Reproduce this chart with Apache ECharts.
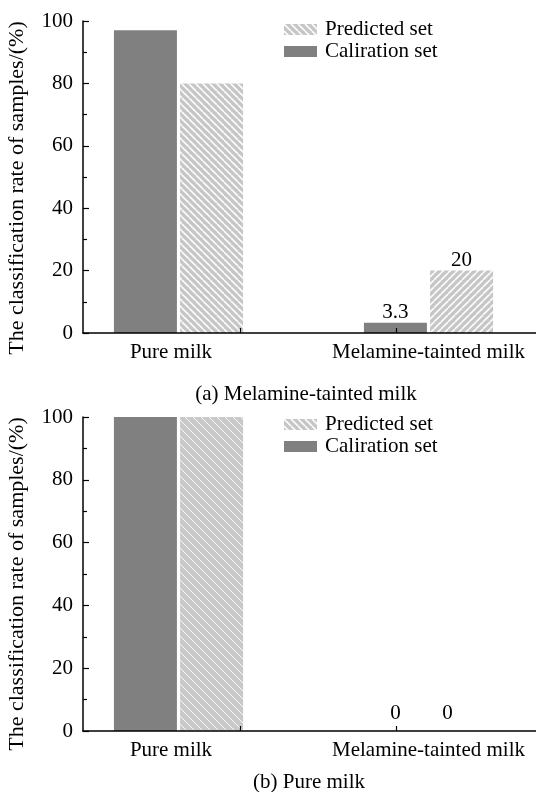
<!DOCTYPE html>
<html>
<head>
<meta charset="utf-8">
<script src="https://cdn.jsdelivr.net/npm/echarts@6/dist/echarts.min.js"></script>
<style>
  html, body { margin: 0; padding: 0; background: #ffffff; }
  #chart { width: 536px; height: 792px; }
</style>
</head>
<body>
<div id="chart"></div>
<script>
// Categories and values (classification rate, %)
const categories = ['Pure milk', 'Melamine-tainted milk'];
const seriesNames = ['Caliration set', 'Predicted set'];
const legendOrder = ['Predicted set', 'Caliration set'];

// (a) Melamine-tainted milk
const calibrationA = [97, 3.3];
const predictedA = [80, 20];
// (b) Pure milk
const calibrationB = [100, 0];
const predictedB = [100, 0];

const yTickValues = [0, 20, 40, 60, 80, 100];
const panelCaptions = ['(a) Melamine-tainted milk', '(b) Pure milk'];
const yTitle = 'The classification rate of samples/(%)';
// only this category carries value labels
const labelledCategory = 'Melamine-tainted milk';

// ---- layout / styling ----
const FONT = '"Liberation Serif", "Times New Roman", serif';
const CAL_COLOR = '#808080';
const PRED_BG = '#c6c6c6';

// x axis works in category units: category i sits at i
const X_MIN = -0.382, X_MAX = 1.43;
const X_TICKS = [0.246, 0.87];
const X_LABEL_AT = [-0.03, 1.0];

function hatch(dir, lineW, step, bg) {
  const c = document.createElement('canvas');
  c.width = step; c.height = step;
  const g = c.getContext('2d');
  g.fillStyle = bg; g.fillRect(0, 0, step, step);
  g.strokeStyle = 'rgba(255,255,255,0.95)';
  g.lineWidth = lineW;
  for (let k = -1; k <= 1; k++) {
    g.beginPath();
    if (dir === '\\') { g.moveTo(k * step, 0); g.lineTo(k * step + step, step); }
    else { g.moveTo(k * step, step); g.lineTo(k * step + step, 0); }
    g.stroke();
  }
  return { image: c, repeat: 'repeat' };
}

const hatchBackA = hatch('\\', 1.6, 7, PRED_BG);
const hatchFwdA = hatch('/', 1.6, 7, PRED_BG);
const hatchBackB = hatch('\\', 0.9, 8, '#c9c9c9');

const grids = [
  { left: 83, top: 21, width: 453, height: 312 },
  { left: 83, top: 417, width: 453, height: 314 }
];

function xAxisFor(gi) {
  return {
    type: 'value', gridIndex: gi, min: X_MIN, max: X_MAX, z: 5,
    splitLine: { show: false },
    axisLine: { show: true, onZero: false, lineStyle: { color: '#000', width: 1.5 } },
    axisTick: { show: true, inside: true, length: 5, customValues: X_TICKS, lineStyle: { color: '#000', width: 1.2 } },
    axisLabel: {
      show: true, customValues: X_LABEL_AT, margin: 9,
      color: '#000', fontFamily: FONT, fontSize: 21,
      formatter: v => categories[Math.round(v)] || ''
    }
  };
}

function yAxisFor(gi) {
  return {
    type: 'value', gridIndex: gi, min: 0, max: 100, interval: 20, z: 5,
    splitLine: { show: false },
    axisLine: { show: true, onZero: false, lineStyle: { color: '#000', width: 1.5 } },
    axisTick: { show: true, inside: true, length: 6, lineStyle: { color: '#000', width: 1.2 } },
    minorTick: { show: true, splitNumber: 2, length: 4, lineStyle: { color: '#000', width: 1.2 } },
    axisLabel: {
      color: '#000', fontFamily: FONT, fontSize: 21, margin: 10,
      formatter: v => (yTickValues.indexOf(v) >= 0 ? String(v) : '')
    }
  };
}

function points(values) {
  return values.map((v, i) => [i, v]);
}

function barSeries(name, gi, values, color, opts) {
  opts = opts || {};
  return {
    name: name, type: 'bar', xAxisIndex: gi, yAxisIndex: gi,
    barWidth: 63, barGap: '5%', z: 2,
    itemStyle: { color: color, borderWidth: 0 },
    emphasis: { disabled: true },
    data: points(values).map((p, i) => {
      const item = { value: p };
      if (opts.itemColors && opts.itemColors[i]) item.itemStyle = { color: opts.itemColors[i] };
      if (categories[i] === labelledCategory) {
        item.label = Object.assign({
          show: true, position: 'top', distance: 0,
          color: '#000', fontFamily: FONT, fontSize: 21,
          formatter: d => String(d.value[1])
        }, opts.labelExtra || {});
      }
      return item;
    })
  };
}

function legendFor(top) {
  return {
    data: legendOrder, orient: 'vertical', left: 284, top: top, padding: 0,
    icon: 'rect', itemWidth: 33, itemHeight: 11, itemGap: 1,
    selectedMode: false,
    textStyle: { color: '#000', fontFamily: FONT, fontSize: 21, padding: [0, 0, 0, 3] }
  };
}

const option = {
  animation: false,
  backgroundColor: '#ffffff',
  grid: grids,
  xAxis: [xAxisFor(0), xAxisFor(1)],
  yAxis: [yAxisFor(0), yAxisFor(1)],
  legend: [legendFor(19), legendFor(414)],
  series: [
    barSeries(seriesNames[0], 0, calibrationA, CAL_COLOR),
    barSeries(seriesNames[1], 0, predictedA, hatchBackA, { itemColors: [null, hatchFwdA] }),
    barSeries(seriesNames[0], 1, calibrationB, CAL_COLOR, { labelExtra: { distance: 7 } }),
    barSeries(seriesNames[1], 1, predictedB, hatchBackB, { labelExtra: { distance: 7, offset: [-14, 0] } })
  ],
  graphic: [
    { type: 'text', x: 17, y: 188, rotation: Math.PI / 2,
      style: { text: yTitle, font: '22px ' + FONT, fill: '#000', textAlign: 'center', textVerticalAlign: 'middle' } },
    { type: 'text', x: 17, y: 584, rotation: Math.PI / 2,
      style: { text: yTitle, font: '22px ' + FONT, fill: '#000', textAlign: 'center', textVerticalAlign: 'middle' } },
    { type: 'text', x: 306, y: 394,
      style: { text: panelCaptions[0], font: '21px ' + FONT, fill: '#000', textAlign: 'center', textVerticalAlign: 'middle' } },
    { type: 'text', x: 309, y: 782,
      style: { text: panelCaptions[1], font: '21px ' + FONT, fill: '#000', textAlign: 'center', textVerticalAlign: 'middle' } }
  ]
};

const chart = echarts.init(document.getElementById('chart'), null, { renderer: 'canvas' });
chart.setOption(option);
</script>
</body>
</html>
